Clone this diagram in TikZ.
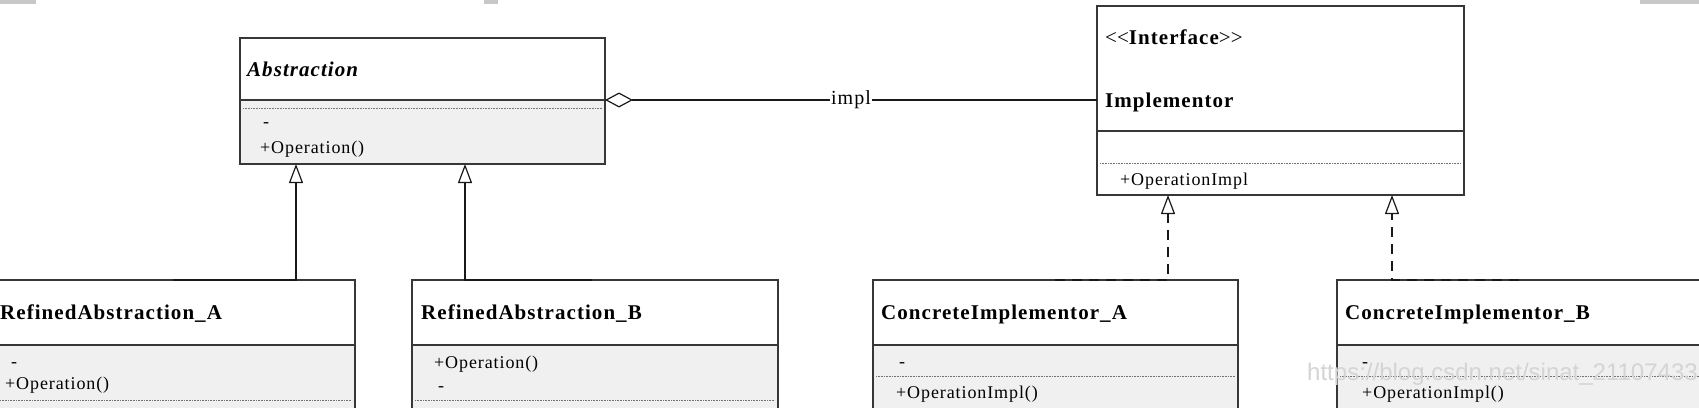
\documentclass[tikz,border=0pt]{standalone}
\usepackage{fontspec}
\setmainfont{Liberation Serif}
\newfontfamily\umlfont[LetterSpace=5]{Liberation Serif}
\newfontfamily\wmfont{Liberation Sans}
\usetikzlibrary{arrows.meta}
\definecolor{lowgray}{RGB}{240,240,240}
\definecolor{edge}{RGB}{55,55,55}
\definecolor{wm}{RGB}{212,212,212}
\definecolor{bar}{RGB}{200,200,200}
\begin{document}
\begin{tikzpicture}[x=1pt,y=-1pt,
  boxpart/.style={draw=edge, line width=1.3pt, inner sep=0pt, outer sep=0pt, anchor=north west},
  upper/.style={boxpart, fill=white},
  lower/.style={boxpart, fill=lowgray},
  sepline/.style={draw=black!55, line width=0.9pt, dash pattern=on 0.9pt off 0.7pt},
  cname/.style={anchor=base west, inner sep=0pt, font=\umlfont\fontsize{21}{25}\selectfont\bfseries},
  cnameit/.style={cname, font=\umlfont\fontsize{21}{25}\selectfont\bfseries\itshape},
  member/.style={anchor=base west, inner sep=0pt, font=\umlfont\fontsize{18}{22}\selectfont},
  inh/.style={draw=black!90, line width=1.2pt, -{Triangle[open, width=14pt, length=19pt, line width=1.2pt]}},
  realize/.style={inh, dash pattern=on 10pt off 7pt},
  agg/.style={draw=black!90, line width=1.2pt, {Diamond[open, width=15pt, length=28pt, line width=1.2pt]}-},
  lbl/.style={fill=white, inner sep=1.5pt, font=\umlfont\fontsize{20}{24}\selectfont},
  gbar/.style={fill=bar, draw=none},
  wmark/.style={anchor=base west, inner sep=0pt, text=wm, font=\wmfont\fontsize{24}{28}\selectfont}
]
\useasboundingbox (0,0) rectangle (1699,407);
\clip (0,0) rectangle (1699,407);
\fill[white] (0,0) rectangle (1699,407);

% top gray bars
\fill[gbar] (0,0) rectangle (36,4);
\fill[gbar] (484,0) rectangle (498,4);
\fill[gbar] (1640,0) rectangle (1699,4);

% Abstraction
\node[upper, minimum width=365pt, minimum height=62pt] (absU) at (240,38) {};
\node[lower, minimum width=365pt, minimum height=64pt] (absL) at (240,100) {};
\draw[sepline] (243,108) -- (602,108);
\node[cnameit] (absT) at (247,76) {Abstraction};
\node[member] (absM1) at (263,127.5) {-};
\node[member] (absM2) at (260,153) {+Operation()};

% Implementor
\node[upper, minimum width=367pt, minimum height=125pt] (implU) at (1097,6) {};
\node[upper, minimum width=367pt, minimum height=64pt] (implL) at (1097,131) {};
\draw[sepline] (1100,163) -- (1461,163);
\node[cname] (implS) at (1105,44) {{\mdseries<}\kern0pt{\mdseries<}Interface{\mdseries>}\kern0pt{\mdseries>}};
\node[cname] (implT) at (1105,107) {Implementor};
\node[member] (implM1) at (1120,185) {+OperationImpl};

% RefinedAbstraction_A
\node[upper, minimum width=365pt, minimum height=65pt] (raU) at (-10,280) {};
\node[lower, minimum width=365pt, minimum height=85pt] (raL) at (-10,345) {};
\draw[sepline] (0,400) -- (352,400);
\node[cname] (raT) at (0,319) {RefinedAbstraction\_A};
\node[member] (raM1) at (11,367.5) {-};
\node[member] (raM2) at (5,389) {+Operation()};

% RefinedAbstraction_B
\node[upper, minimum width=366pt, minimum height=65pt] (rbU) at (412,280) {};
\node[lower, minimum width=366pt, minimum height=85pt] (rbL) at (412,345) {};
\draw[sepline] (415,400) -- (775,400);
\node[cname] (rbT) at (421,319) {RefinedAbstraction\_B};
\node[member] (rbM1) at (434,368) {+Operation()};
\node[member] (rbM2) at (438,391.5) {-};

% ConcreteImplementor_A
\node[upper, minimum width=365pt, minimum height=65pt] (caU) at (873,280) {};
\node[lower, minimum width=365pt, minimum height=85pt] (caL) at (873,345) {};
\draw[sepline] (876,376) -- (1235,376);
\node[cname] (caT) at (881,319) {ConcreteImplementor\_A};
\node[member] (caM1) at (899,367.5) {-};
\node[member] (caM2) at (896,398) {+OperationImpl()};

% ConcreteImplementor_B
\node[upper, minimum width=380pt, minimum height=65pt] (cbU) at (1337,280) {};
\node[lower, minimum width=380pt, minimum height=85pt] (cbL) at (1337,345) {};
\draw[sepline] (1340,376) -- (1699,376);
\node[cname] (cbT) at (1345,319) {ConcreteImplementor\_B};
\node[member] (cbM1) at (1362,367.5) {-};
\node[member] (cbM2) at (1362,398) {+OperationImpl()};

% generalisation connectors
\coordinate (ra1) at (296,280); \coordinate (ra1e) at (173,280);
\draw[inh, line width=1.7pt] (ra1e) -- (ra1) -- (ra1 |- absL.south);
\coordinate (rb1) at (465,280); \coordinate (rb1e) at (592,280);
\draw[inh, line width=1.7pt] (rb1e) -- (rb1) -- (rb1 |- absL.south);

% realisation connectors
\coordinate (ca1) at (1168,280); \coordinate (ca1e) at (1055,280);
\draw[realize, line width=1.7pt] (ca1e) -- (ca1) -- (ca1 |- implL.south);
\coordinate (cb1) at (1392,280); \coordinate (cb1e) at (1519,280);
\draw[realize, line width=1.7pt] (cb1e) -- (cb1) -- (cb1 |- implL.south);

% aggregation
\draw[agg] (absL.north east) -- node[lbl] (implLabel) {impl} (absL.north east -| implU.west);

% watermark
\node[wmark] (wm) at (1307,380) {https://blog.csdn.net/sinat\_21107433};
\end{tikzpicture}
\end{document}
